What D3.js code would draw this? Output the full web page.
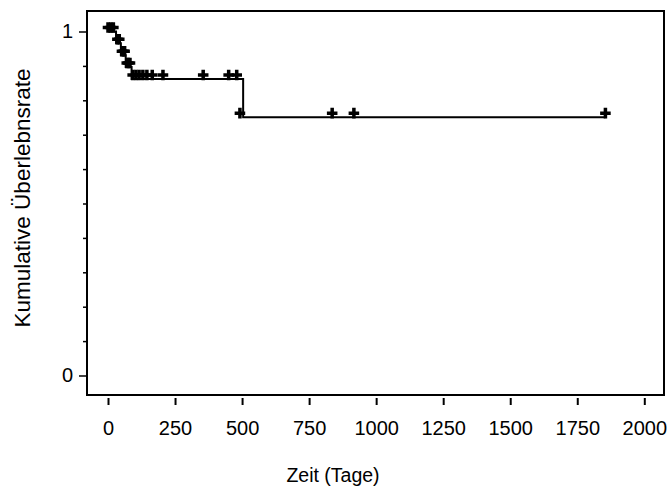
<!DOCTYPE html>
<html>
<head>
<meta charset="utf-8">
<script src="https://cdn.jsdelivr.net/npm/d3@7"></script>
<style>
  html, body { margin: 0; padding: 0; background: #fff; }
  svg { display: block; }
  text { font-family: Arial, "Liberation Sans", sans-serif; fill: #000; }
</style>
</head>
<body>
<svg id="chart" width="668" height="490"></svg>
<script>
// Kaplan-Meier step function (event times and survival after each step)
const stepTimes = [0, 30, 48, 66, 88, 504];
const stepSurv  = [1, 0.966, 0.931, 0.897, 0.862, 0.751];
const endTime = 1855;

// Censored observations (time, survival at that time)
const censorTimes = [0, 10, 20, 35, 42, 52, 58, 62, 70, 76, 82, 92, 104, 116, 130, 145, 165, 205, 355, 450, 480, 492, 836, 917, 1855];
const censorSurv  = [1, 1, 1, 0.966, 0.966, 0.931, 0.931, 0.931, 0.897, 0.897, 0.897, 0.862, 0.862, 0.862, 0.862, 0.862, 0.862, 0.862, 0.862, 0.862, 0.862, 0.751, 0.751, 0.751, 0.751];

const xTicks = [0, 250, 500, 750, 1000, 1250, 1500, 1750, 2000];
const yMajorTicks = [0, 1];
const yMinorTicks = [0.1, 0.2, 0.3, 0.4, 0.5, 0.6, 0.7, 0.8, 0.9];
const xLabel = "Zeit (Tage)";
const yLabel = "Kumulative Überlebnsrate";

const svg = d3.select("#chart");
const frame = {left: 87, right: 664, top: 11, bottom: 395};

const x = d3.scaleLinear().domain([0, 2000]).range([108, 644.3]);
const y = d3.scaleLinear().domain([0, 1]).range([375.5, 31.5]);

// frame
svg.append("rect")
  .attr("x", frame.left).attr("y", frame.top)
  .attr("width", frame.right - frame.left).attr("height", frame.bottom - frame.top)
  .attr("fill", "none").attr("stroke", "#000").attr("stroke-width", 2);

// x axis (detached below the frame)
const xAxis = d3.axisBottom(x).tickValues(xTicks).tickSize(7).tickPadding(16).tickFormat(d3.format("d"));
const gx = svg.append("g").attr("transform", `translate(0,${frame.bottom + 3})`).call(xAxis);
gx.select(".domain").remove();
gx.selectAll(".tick line").attr("stroke", "#000").attr("stroke-width", 2);
gx.selectAll(".tick text").attr("font-size", 20).attr("font-family", "Arial, 'Liberation Sans', sans-serif");

// y axis major
const yAxis = d3.axisLeft(y).tickValues(yMajorTicks).tickSize(8).tickPadding(6).tickFormat(d3.format("d"));
const gy = svg.append("g").attr("transform", `translate(${frame.left},0)`).call(yAxis);
gy.select(".domain").remove();
gy.selectAll(".tick line").attr("stroke", "#000").attr("stroke-width", 1.5);
gy.selectAll(".tick text").attr("font-size", 20).attr("font-family", "Arial, 'Liberation Sans', sans-serif");

// y axis minor
const yAxisMinor = d3.axisLeft(y).tickValues(yMinorTicks).tickSize(4).tickFormat("");
const gym = svg.append("g").attr("transform", `translate(${frame.left},0)`).call(yAxisMinor);
gym.select(".domain").remove();
gym.selectAll(".tick line").attr("stroke", "#000").attr("stroke-width", 1.5);

// survival step line
const pts = stepTimes.map((t, i) => [t, stepSurv[i]]);
pts.push([endTime, stepSurv[stepSurv.length - 1]]);
const line = d3.line().x(d => x(d[0])).y(d => y(d[1])).curve(d3.curveStepAfter);
svg.append("path").datum(pts)
  .attr("d", line).attr("fill", "none").attr("stroke", "#000").attr("stroke-width", 2);

// censor markers
const sym = d3.symbol().type(d3.symbolCross).size(62);
svg.append("g").selectAll("path").data(censorTimes.map((t, i) => [t, censorSurv[i]]))
  .join("path")
  .attr("d", sym)
  .attr("transform", d => `translate(${x(d[0])},${y(d[1]) - 4})`)
  .attr("fill", "#000");

// axis titles
svg.append("text")
  .attr("x", 333).attr("y", 482)
  .attr("text-anchor", "middle").attr("font-size", 19.5)
  .text(xLabel);

svg.append("text")
  .attr("transform", "translate(30,198) rotate(-90)")
  .attr("text-anchor", "middle").attr("font-size", 22.5)
  .text(yLabel);
</script>
</body>
</html>
